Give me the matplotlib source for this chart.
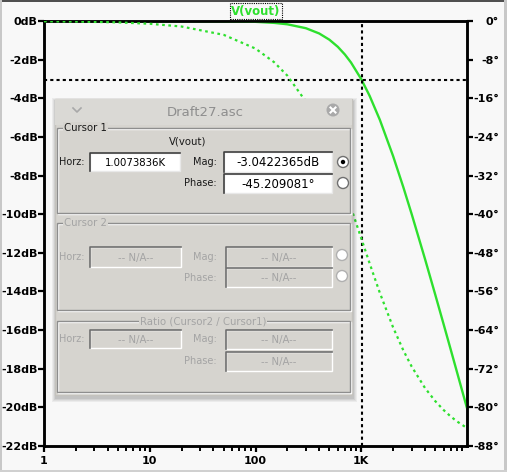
import matplotlib
matplotlib.use("Agg")
import matplotlib.pyplot as plt
from matplotlib.patches import Rectangle, Circle
from matplotlib.ticker import FixedLocator, NullFormatter

# ---------------- data ----------------
freq_hz = [1, 2, 5, 10, 20, 50, 100, 150, 200, 300, 400, 500, 600, 700, 800,
           1000, 1200, 1500, 2000, 2500, 3000, 4000, 5000, 6000, 7000, 8000, 10000]
mag_db = [0.0, 0.0, 0.0, -0.0004, -0.0017, -0.011, -0.043, -0.097, -0.170, -0.374,
          -0.645, -0.969, -1.335, -1.733, -2.148, -3.010, -3.874, -5.119, -6.990,
          -8.603, -10.000, -12.304, -14.150, -15.682, -16.990, -18.129, -20.043]
phase_deg = [-0.057, -0.115, -0.286, -0.573, -1.146, -2.862, -5.711, -8.531, -11.310,
             -16.699, -21.801, -26.565, -30.964, -34.992, -38.660, -45.000, -50.194,
             -56.310, -63.435, -68.199, -71.565, -75.964, -78.690, -80.538, -81.870,
             -82.875, -84.289]

trace_name = "V(vout)"
cursor_freq = 1007.3836
cursor_mag = -3.0422365
cursor_phase = -45.209081

mag_ticks = [0, -2, -4, -6, -8, -10, -12, -14, -16, -18, -20, -22]
mag_labels = [f"{t}dB" for t in mag_ticks]
phase_ticks = [0, -8, -16, -24, -32, -40, -48, -56, -64, -72, -80, -88]
phase_labels = [f"{t}°" for t in phase_ticks]
x_major = [1, 10, 100, 1000]
x_labels = ["1", "10", "100", "1K"]
x_minor = [m * d for d in (1, 10, 100, 1000) for m in range(2, 10)]

dialog_title = "Draft27.asc"
horz_text = "1.0073836K"
mag_text = "-3.0422365dB"
phase_text = "-45.209081°"

# ---------------- figure ----------------
W, H = 507, 472
fig = plt.figure(figsize=(W / 100, H / 100), dpi=100)
bg = "#f8f8f8"
fig.patch.set_facecolor(bg)
plt.rcParams["font.family"] = ["DejaVu Sans"]

L, R, T, B = 44, 467, 21, 446
ax = fig.add_axes([L / W, 1 - B / H, (R - L) / W, (B - T) / H])
ax.set_facecolor(bg)
green = "#2ee02e"

ax.plot(freq_hz, mag_db, color=green, lw=1.7, solid_capstyle="butt", zorder=3)
ax.set_xscale("log")
ax.set_xlim(1, 10000)
ax.set_ylim(-22, 0)

ax2 = ax.twinx()
ax2.plot(freq_hz, phase_deg, color=green, lw=1.6, linestyle=(0, (1.2, 1.6)), zorder=3)
ax2.set_ylim(-88, 0)

# cursors
ax.axvline(cursor_freq, color="black", lw=1.5, linestyle=(0, (1.5, 1.5)), zorder=4)
ax.axhline(cursor_mag, color="black", lw=1.5, linestyle=(0, (1.5, 1.5)), zorder=4)

for a in (ax, ax2):
    for s in a.spines.values():
        s.set_linewidth(1.8)
        s.set_color("black")

ax.set_yticks(mag_ticks)
ax.set_yticklabels(mag_labels, fontsize=8, fontweight="bold")
ax2.set_yticks(phase_ticks)
ax2.set_yticklabels(phase_labels, fontsize=8, fontweight="bold", ha="right")
ax.xaxis.set_major_locator(FixedLocator(x_major))
ax.xaxis.set_minor_locator(FixedLocator(x_minor))
ax.xaxis.set_minor_formatter(NullFormatter())
ax.set_xticklabels(x_labels, fontsize=8, fontweight="bold")
ax.tick_params(axis="y", direction="out", length=4, width=1.6, pad=0.5)
ax2.tick_params(axis="y", direction="out", length=4, width=1.6, pad=19)
ax.tick_params(axis="x", which="major", direction="out", length=4, width=1.6, pad=3)
ax.tick_params(axis="x", which="minor", direction="out", length=3.5, width=1.4)

fig.text(256 / W, 1 - 11 / H, trace_name, color=green, fontsize=8.5, fontweight="bold",
         ha="center", va="center",
         bbox=dict(boxstyle="square,pad=0.12", fc=bg, ec="black", lw=0.8, linestyle=(0, (1, 1))))

# ---------------- dialog overlay (pixel coordinates) ----------------
ov = fig.add_axes([0, 0, 1, 1], zorder=10)
ov.set_xlim(0, W)
ov.set_ylim(H, 0)
ov.axis("off")
ov.patch.set_alpha(0)

# window frame
ov.add_patch(Rectangle((0, 0), W, 1.5, fc="#505050", ec="none"))
ov.add_patch(Rectangle((W - 3, 0), 3, H, fc="#c8c8c8", ec="none"))
ov.add_patch(Rectangle((0, 0), 1.5, H, fc="#c8c8c8", ec="none"))
ov.add_patch(Rectangle((0, H - 2), W, 2, fc="#d0d0d0", ec="none"))

dlg_bg = "#d6d4cf"
# shadow
for i, al in enumerate([0.05, 0.05, 0.06, 0.07]):
    d = 5 - i
    ov.add_patch(Rectangle((55 - d + 2, 99 - d + 4), 297 + 2 * d - 2, 296 + 2 * d - 2,
                           fc="black", ec="none", alpha=al))
ov.add_patch(Rectangle((55, 99), 297, 296, fc=dlg_bg, ec="#c4c2bd", lw=1))
ov.add_patch(Rectangle((55, 99), 297, 26, fc="#dad9d5", ec="none"))
ov.text(205, 112, dialog_title, fontsize=9.5, color="#8e8e8e", ha="center", va="center")
ov.plot([73, 77, 81], [108, 112, 108], color="#a8a8a8", lw=1.2)
ov.add_patch(Circle((333, 110), 6.5, fc="#a9a9a9", ec="none"))
ov.plot([330.5, 335.5], [107.5, 112.5], color="white", lw=1.5)
ov.plot([330.5, 335.5], [112.5, 107.5], color="white", lw=1.5)


def group(x0, y0, x1, y1, label, lx, center=False, dis=False):
    ov.add_patch(Rectangle((x0 + 1, y0 + 1), x1 - x0, y1 - y0, fc="none", ec="white", lw=1))
    ov.add_patch(Rectangle((x0, y0), x1 - x0, y1 - y0, fc="none", ec="#8e8e8e", lw=1))
    col = "#a4a4a4" if dis else "#1a1a1a"
    ov.text(lx, y0, label, fontsize=7.3, color=col, ha="center" if center else "left",
            va="center", bbox=dict(boxstyle="square,pad=0.1", fc=dlg_bg, ec="none"))


def box(x0, y0, x1, y1, text, dis=False, fs=8):
    if dis:
        ov.add_patch(Rectangle((x0, y0), x1 - x0, y1 - y0, fc=dlg_bg, ec="white", lw=1))
        ov.plot([x0, x0, x1], [y1, y0, y0], color="#6e6e6e", lw=1.2)
        ov.text((x0 + x1) / 2, (y0 + y1) / 2 + 0.5, text, fontsize=7.3, color="#a4a4a4",
                ha="center", va="center")
    else:
        ov.add_patch(Rectangle((x0, y0), x1 - x0, y1 - y0, fc="white", ec="#e8e8e8", lw=1))
        ov.plot([x0, x0, x1], [y1, y0, y0], color="#404040", lw=1.2)
        ov.text((x0 + x1) / 2, (y0 + y1) / 2 + 0.5, text, fontsize=fs, color="black",
                ha="center", va="center")


def label(x, y, text, dis=False):
    ov.text(x, y, text, fontsize=7, color="#a4a4a4" if dis else "#1a1a1a",
            ha="right", va="center")


def radio(x, y, dot=False, dis=False):
    ov.add_patch(Circle((x, y), 5.5, fc="white", ec="#b0b0b0" if dis else "#707070", lw=1))
    if dot:
        ov.add_patch(Circle((x, y), 2.2, fc="black", ec="none"))


# Cursor 1
group(57, 128, 350, 213, "Cursor 1", 64)
ov.text(188, 142, trace_name, fontsize=7.3, color="#1a1a1a", ha="center", va="center")
label(84, 162, "Horz:")
box(90, 153, 180, 171, horz_text, fs=7.3)
label(217, 162, "Mag:")
box(224, 152, 332, 172, mag_text, fs=8.5)
radio(343, 162, dot=True)
label(217, 183, "Phase:")
box(224, 174, 332, 193, phase_text, fs=8.5)
radio(343, 183)

# Cursor 2
group(57, 223, 350, 310, "Cursor 2", 64, dis=True)
label(84, 257, "Horz:", dis=True)
box(90, 247, 181, 267, "-- N/A--", dis=True)
label(217, 257, "Mag:", dis=True)
box(226, 247, 332, 267, "-- N/A--", dis=True)
radio(342, 255, dis=True)
label(217, 278, "Phase:", dis=True)
box(226, 268, 332, 287, "-- N/A--", dis=True)
radio(342, 276, dis=True)

# Ratio
group(57, 321, 350, 392, "Ratio (Cursor2 / Cursor1)", 203, center=True, dis=True)
label(84, 339, "Horz:", dis=True)
box(90, 330, 181, 348, "-- N/A--", dis=True)
label(217, 339, "Mag:", dis=True)
box(226, 330, 332, 349, "-- N/A--", dis=True)
label(217, 361, "Phase:", dis=True)
box(226, 352, 332, 371, "-- N/A--", dis=True)

fig.savefig("out.png", dpi=100, facecolor=bg)
